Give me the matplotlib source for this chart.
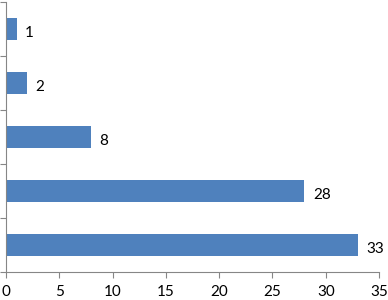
import numpy as np
import matplotlib.pyplot as plt

plt.rcParams['font.family'] = ['Lato', 'DejaVu Sans']

values = [33, 28, 8, 2, 1]   # bottom to top
xticks = [0, 5, 10, 15, 20, 25, 30, 35]

fig = plt.figure(figsize=(3.88, 3.0), dpi=100)
ax = fig.add_axes([0.0155, 0.093, 0.9615, 0.9])

y = np.arange(len(values))
ax.barh(y, values, height=0.42, color='#4F81BD')
for yi, v in zip(y, values):
    ax.annotate(str(v), (v, yi), xytext=(6, -2.5), textcoords='offset points',
                va='center', ha='left', fontsize=11)

ax.set_xlim(0, 35)
ax.set_ylim(-0.5, len(values) - 0.5)
ax.set_xticks(xticks)
ax.set_yticks(np.arange(-0.5, len(values), 1.0))
ax.set_yticklabels([])
ax.tick_params(axis='x', labelsize=11, length=4, color='#868686', pad=5)
ax.tick_params(axis='y', length=4, color='#868686')
for s in ['top', 'right']:
    ax.spines[s].set_visible(False)
for s in ['left', 'bottom']:
    ax.spines[s].set_color('#868686')

fig.savefig('out.png', dpi=100)
